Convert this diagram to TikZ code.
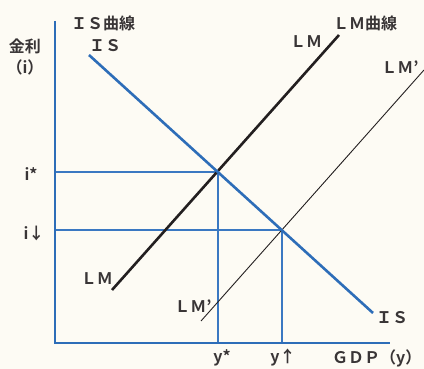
\documentclass[tikz,border=0pt]{standalone}
\usepackage{fontspec}
\setmainfont{Noto Sans CJK JP}[BoldFont={Noto Sans CJK JP Bold}]
\usepackage{xcolor}
\usepackage{tikz}
\usetikzlibrary{calc, positioning}
\definecolor{paper}{HTML}{FDFBF4}
\definecolor{isblue}{HTML}{2D6DB8}
\definecolor{guideblue}{HTML}{3A78C2}
\definecolor{ink}{HTML}{231F20}

\begin{document}
\begin{tikzpicture}[x=1pt, y=-1pt,
    lbl/.style={font=\fontsize{16}{19}\selectfont\bfseries, text=ink!90, inner sep=0pt},
    axis/.style={draw=isblue, line width=1.4pt},
    guide/.style={draw=guideblue, line width=1.6pt},
    iscurve/.style={draw=isblue, line width=2.6pt},
    lmcurve/.style={draw=ink, line width=2.6pt},
    lmshift/.style={draw=ink, line width=0.9pt}]
    % background and frame
    \fill[paper] (0,0) rectangle (424,369);
    \useasboundingbox (0,0) rectangle (424,369);

    % axes
    \coordinate (top) at (55,21);
    \coordinate (origin) at (55,343);
    \coordinate (right) at (390,343);

    % curves
    \coordinate (is-a) at (89,55);
    \coordinate (is-b) at (373,313);
    \coordinate (lm-a) at (112,290);
    \coordinate (lm-b) at (339,35);
    \coordinate (lm2-a) at (201,321);
    \coordinate (lm2-b) at (424,70);

    % equilibria
    \coordinate (eq) at (218,172);
    \coordinate (eq2) at (intersection of is-a--is-b and lm2-a--lm2-b);
    \coordinate (istar) at (eq -| top);
    \coordinate (idown) at (eq2 -| top);
    \coordinate (ystar) at (eq |- origin);
    \coordinate (yup) at (eq2 |- origin);

    \draw[guide] (idown) -- (eq2) -- (yup);
    \draw[guide] (istar) -- (eq) -- (ystar);
    \draw[axis] (top) -- (origin) -- (right);
    \draw[lmshift] (lm2-a) -- (lm2-b);
    \draw[lmcurve] (lm-a) -- (lm-b);
    \draw[iscurve] (is-a) -- (is-b);

    % labels
    \node[lbl] (rate) at (25,46) {金利};
    \node[lbl, below=6pt of rate] (rate-i) {（i）};
    \node[lbl] (is-title) at (103,23) {ＩＳ曲線};
    \node[lbl] (is-top) at (105,46) {ＩＳ};
    \node[lbl] (lm-title) at (365,23) {ＬＭ曲線};
    \node[lbl] (lm-top) at (306,42) {ＬＭ};
    \node[lbl] (lm2-top) at (400,67) {ＬＭ’};
    \node[lbl] (lbl-istar) at (31,174) {i*};
    \node[lbl] (lbl-idown) at (34,233) {i↓};
    \node[lbl] (lm-low) at (97,279) {ＬＭ};
    \node[lbl] (lm2-low) at (193,306) {ＬＭ’};
    \node[lbl] (is-low) at (392,318) {ＩＳ};
    \node[lbl] (lbl-ystar) at (222,358) {y*};
    \node[lbl] (lbl-yup) at (283,358) {y↑};
    \node[lbl, anchor=west] (gdp) at (332,358) {ＧＤＰ（y）};
\end{tikzpicture}
\end{document}
